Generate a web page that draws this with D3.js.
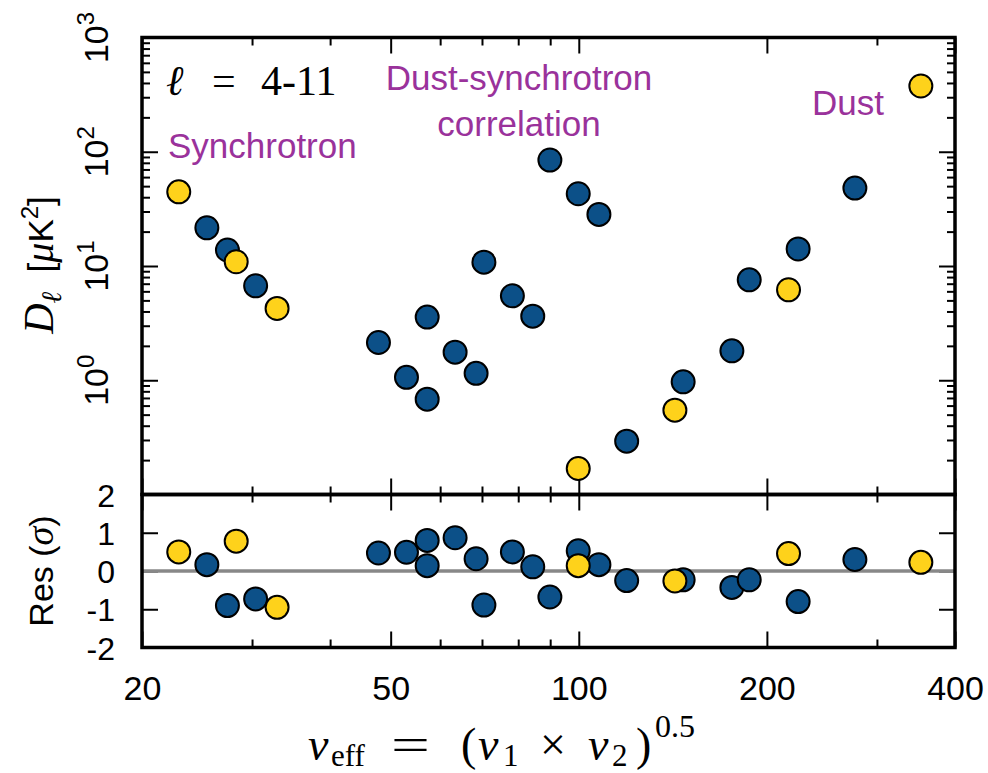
<!DOCTYPE html>
<html><head><meta charset="utf-8">
<script src="https://cdn.jsdelivr.net/npm/d3@7"></script>
<style>
  body { margin: 0; background: #fff; }
</style>
</head><body>
<svg id="chart" width="988" height="773"></svg>
<script>
// Single-frequency (auto) spectra: effective frequency [GHz], D_ell [uK^2], residual [sigma]
const autoFreq = [22.9, 28.3, 32.9, 99.8, 142.5, 216.6, 352.7];
const autoDl   = [44.6, 10.9, 4.25, 0.169, 0.547, 6.19, 376];
const autoRes  = [0.50, 0.78, -0.95, 0.14, -0.26, 0.455, 0.226];

// Cross-frequency spectra
const crossFreq = [25.4, 27.4, 30.4, 47.8, 53.0, 57.2, 57.2, 63.4, 68.5, 70.5, 78.3,
                   84.4, 89.9, 99.8, 107.7, 119.3, 146.9, 175.8, 187.4, 224.4, 276.6];
const crossDl   = [21.6, 13.8, 6.71, 2.14, 1.06, 3.57, 0.683, 1.76, 1.15, 10.8, 5.48,
                   3.64, 84.6, 42.9, 28.3, 0.293, 0.968, 1.81, 7.57, 14.1, 48.1];
const crossRes  = [0.166, -0.905, -0.73, 0.47, 0.49, 0.80, 0.14, 0.87, 0.32, -0.89, 0.50,
                   0.11, -0.68, 0.53, 0.166, -0.25, -0.23, -0.43, -0.23, -0.80, 0.30];

// Axis ticks
const xMajorTicks = [20, 50, 100, 200, 400];
const xMinorTicks = [30, 40, 60, 70, 80, 90, 300];
const yDecadeTicks = [1, 10, 100, 1000];
const yDecadeExp = ["0", "1", "2", "3"];
const resTicks = [-2, -1, 0, 1, 2];
const resTickLabels = ["-2", "-1", "0", "1", "2"];

const colorCross = "#0c5088";
const colorAuto = "#fed21b";
const colorNote = "#9a329b";

const L = 142, R = 955;
const T1 = 37.5, B1 = 494.5;   // upper panel
const T2 = 494.5, B2 = 647.5;  // residual panel

const svg = d3.select("#chart");

const x = d3.scaleLog().domain([20, 400]).range([L, R]);
const yTop = d3.scaleLog().domain([0.1, 1000]).range([B1, T1]);
const yRes = d3.scaleLinear().domain([-2, 2]).range([B2, T2]);

const sans = "'Liberation Sans', Arial, sans-serif";
const serif = "'Liberation Serif', 'Times New Roman', serif";

const crossPts = crossFreq.map((f, i) => ({ f, dl: crossDl[i], res: crossRes[i] }));
const autoPts = autoFreq.map((f, i) => ({ f, dl: autoDl[i], res: autoRes[i] }));

// ---------- tick marks ----------
function strip(g) {
  g.select(".domain").remove();
  g.selectAll("line").attr("stroke", "#000").attr("stroke-width", 2);
}
function xTicks(y, orient) {
  const mk = orient === "top" ? d3.axisTop : d3.axisBottom;
  svg.append("g").attr("transform", `translate(0,${y})`)
    .call(mk(x).tickValues(xMajorTicks).tickSizeInner(-16).tickSizeOuter(0).tickFormat(""))
    .call(strip);
  svg.append("g").attr("transform", `translate(0,${y})`)
    .call(mk(x).tickValues(xMinorTicks).tickSizeInner(-8).tickSizeOuter(0).tickFormat(""))
    .call(strip);
}
xTicks(T1, "top");
xTicks(B1, "bottom");
xTicks(T2, "top");
xTicks(B2, "bottom");

const yMinor = yTop.ticks().filter(v => !yDecadeTicks.includes(v) && Math.abs(v - 0.1) > 1e-9);
[[L, d3.axisLeft], [R, d3.axisRight]].forEach(([px, mk]) => {
  svg.append("g").attr("transform", `translate(${px},0)`)
    .call(mk(yTop).tickValues(yDecadeTicks).tickSizeInner(-16).tickSizeOuter(0).tickFormat(""))
    .call(strip);
  svg.append("g").attr("transform", `translate(${px},0)`)
    .call(mk(yTop).tickValues(yMinor).tickSizeInner(-8).tickSizeOuter(0).tickFormat(""))
    .call(strip);
  svg.append("g").attr("transform", `translate(${px},0)`)
    .call(mk(yRes).tickValues(resTicks).tickSizeInner(-16).tickSizeOuter(0).tickFormat(""))
    .call(strip);
});

// ---------- tick labels ----------
const xLab = svg.append("g").attr("transform", `translate(0,${B2})`)
  .call(d3.axisBottom(x).tickValues(xMajorTicks).tickSize(0).tickPadding(0).tickFormat(d3.format("d")));
xLab.select(".domain").remove();
xLab.selectAll("text").attr("y", 52).attr("dy", 0)
  .attr("font-family", sans).attr("font-size", 34).attr("fill", "#000");

const resLab = svg.append("g").attr("transform", `translate(${L},0)`)
  .call(d3.axisLeft(yRes).tickValues(resTicks).tickSize(0).tickPadding(0)
    .tickFormat((d, i) => resTickLabels[i]));
resLab.select(".domain").remove();
resLab.selectAll("text").attr("x", -27).attr("dy", "0.36em")
  .attr("font-family", sans).attr("font-size", 32).attr("fill", "#000");

// rotated decade labels for the logarithmic axis
yDecadeTicks.forEach((v, i) => {
  const t = svg.append("text")
    .attr("transform", `translate(108,${yTop(v)}) rotate(-90)`)
    .attr("text-anchor", "middle")
    .attr("font-family", sans).attr("font-size", 34).attr("fill", "#000");
  t.append("tspan").text("10");
  t.append("tspan").attr("dy", -14).attr("font-size", 24).text(yDecadeExp[i]);
});

// ---------- zero line in residual panel ----------
svg.append("line")
  .attr("x1", L).attr("x2", R).attr("y1", yRes(0)).attr("y2", yRes(0))
  .attr("stroke", "#888888").attr("stroke-width", 3.5);

// ---------- points ----------
function drawPoints(data, color, yAcc) {
  svg.append("g").selectAll("circle").data(data).join("circle")
    .attr("cx", d => x(d.f)).attr("cy", yAcc)
    .attr("r", 11.5)
    .attr("fill", color).attr("stroke", "#000").attr("stroke-width", 2);
}
drawPoints(crossPts, colorCross, d => yTop(d.dl));
drawPoints(autoPts, colorAuto, d => yTop(d.dl));
drawPoints(crossPts, colorCross, d => yRes(d.res));
drawPoints(autoPts, colorAuto, d => yRes(d.res));

// ---------- frames ----------
svg.append("rect").attr("x", L).attr("y", T1).attr("width", R - L).attr("height", B1 - T1)
  .attr("fill", "none").attr("stroke", "#000").attr("stroke-width", 3.5);
svg.append("rect").attr("x", L).attr("y", T2).attr("width", R - L).attr("height", B2 - T2)
  .attr("fill", "none").attr("stroke", "#000").attr("stroke-width", 3.5);

// ---------- annotations ----------
const note = (txt, px, py, anchor) => svg.append("text")
  .attr("x", px).attr("y", py).attr("text-anchor", anchor || "start")
  .attr("font-family", sans).attr("font-size", 35).attr("fill", colorNote).text(txt);
note("Synchrotron", 168, 158);
note("Dust-synchrotron", 519, 90, "middle");
note("correlation", 519, 136, "middle");
note("Dust", 812, 115);

// multipole range label
const ell = svg.append("g").attr("font-family", serif).attr("font-size", 42).attr("fill", "#000");
ell.append("text").attr("x", 166).attr("y", 95).attr("font-style", "italic").text("ℓ");
ell.append("text").attr("transform", "translate(212,95)").text("=");
ell.append("text").attr("x", 261).attr("y", 95).text("4-11");

// ---------- axis titles ----------
const yt = svg.append("text")
  .attr("transform", "translate(53,265) rotate(-90)")
  .attr("text-anchor", "middle").attr("font-family", sans).attr("font-size", 35).attr("fill", "#000");
yt.append("tspan").attr("font-family", serif).attr("font-style", "italic").attr("font-size", 42).text("D");
yt.append("tspan").attr("font-family", serif).attr("font-style", "italic").attr("font-size", 28).attr("dy", 8).text("ℓ");
yt.append("tspan").attr("dy", -8).text("\u00a0\u00a0[");
yt.append("tspan").attr("font-family", serif).attr("font-style", "italic").attr("font-size", 40).text("μ");
yt.append("tspan").text("K");
yt.append("tspan").attr("dy", -15).attr("font-size", 24).text("2");
yt.append("tspan").attr("dy", 15).text("]");

const rt = svg.append("text")
  .attr("transform", "translate(53,571) rotate(-90)")
  .attr("text-anchor", "middle").attr("font-family", sans).attr("font-size", 34).attr("fill", "#000");
rt.append("tspan").text("Res\u00a0(");
rt.append("tspan").attr("font-family", serif).attr("font-style", "italic").attr("font-size", 38).text("σ");
rt.append("tspan").text(")");

// x title: nu_eff = (nu_1 x nu_2)^0.5
const xt = svg.append("g").attr("font-family", serif).attr("font-size", 46).attr("fill", "#000");
const xPart = (txt, px, py, opts) => {
  const t = xt.append("text").attr("x", px).attr("y", py).text(txt);
  if (opts && opts.italic) t.attr("font-style", "italic");
  if (opts && opts.size) t.attr("font-size", opts.size);
  return t;
};
xPart("ν", 308, 760, { italic: true });
xPart("eff", 331, 766, { size: 31 });
xt.append("text").attr("transform", "translate(391,760) scale(1.5,1)").text("=");
xPart("(", 461, 760);
xPart("ν", 478, 760, { italic: true });
xPart("1", 503, 766, { size: 31 });
xPart("×", 540, 760);
xPart("ν", 588, 760, { italic: true });
xPart("2", 612, 766, { size: 31 });
xPart(")", 636, 760);
xPart("0.5", 655, 737, { size: 32 });
</script>
</body></html>
